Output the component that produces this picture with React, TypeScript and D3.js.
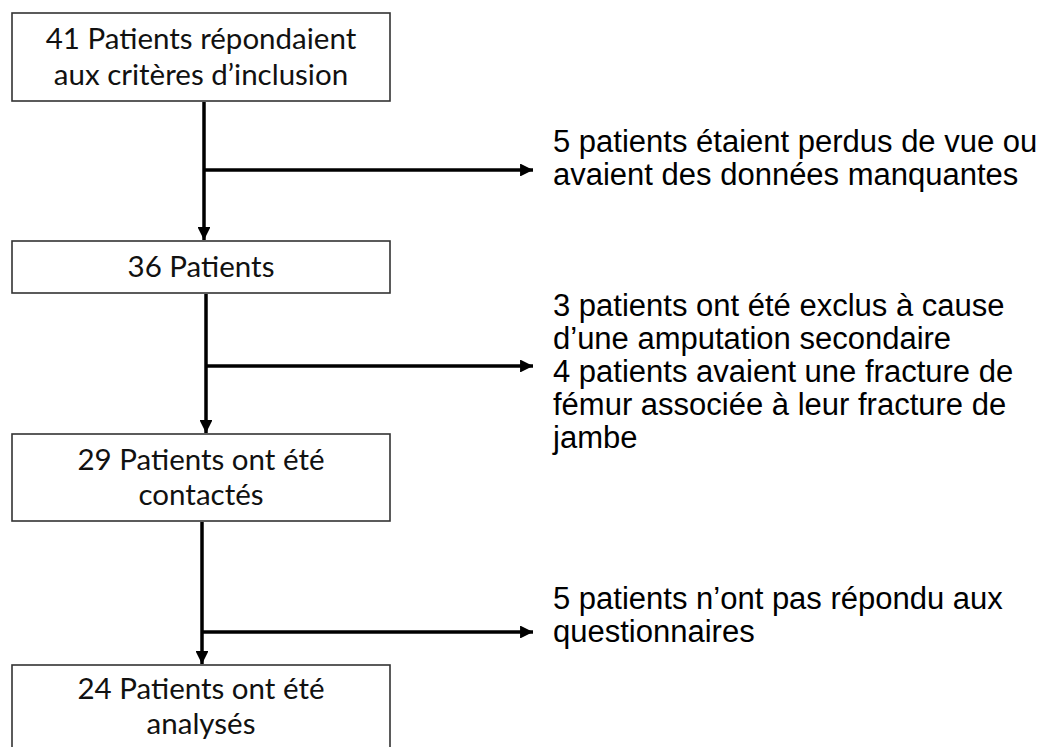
import { useRef, useEffect } from "react";
import * as d3 from "d3";

// stage counts and labels (flow diagram)
const stageCounts = [41, 36, 29, 24];
const stageLines = [
  ["41 Patients répondaient", "aux critères d’inclusion"],
  ["36 Patients"],
  ["29 Patients ont été", "contactés"],
  ["24 Patients ont été", "analysés"],
];
const excludedCounts = [5, 7, 5];
const excludedLines = [
  ["5 patients étaient perdus de vue ou", "avaient des données manquantes"],
  [
    "3 patients ont été exclus à cause",
    "d’une amputation secondaire",
    "4 patients avaient une fracture de",
    "fémur associée à leur fracture de",
    "jambe",
  ],
  ["5 patients n’ont pas répondu aux", "questionnaires"],
];

const W = 1041;
const H = 747;

// layout of the boxes (top, bottom) and connector geometry
const boxX0 = 12;
const boxX1 = 390;
const boxTops = [13, 241, 434, 665];
const boxBottoms = [101, 293, 521, 780];
const stemX = [204, 206, 202];
const branchY = [170, 366, 632];
const branchEnd = 533;
const noteX = 553;
const noteFirstBaseline = [152, 316, 609];

export default function App() {
  const svgRef = useRef<SVGSVGElement>(null);

  useEffect(() => {
    if (!svgRef.current) return;
    const svg = d3.select(svgRef.current);
    svg.selectAll("*").remove();

    const defs = svg.append("defs");
    defs
      .append("marker")
      .attr("id", "head")
      .attr("viewBox", "0 0 10 10")
      .attr("refX", 10)
      .attr("refY", 5)
      .attr("markerWidth", 3.7)
      .attr("markerHeight", 3.7)
      .attr("markerUnits", "strokeWidth")
      .attr("orient", "auto")
      .append("path")
      .attr("d", "M0,0 L10,5 L0,10 Z")
      .attr("fill", "#000");

    // boxes
    const boxes = svg
      .selectAll(".box")
      .data(stageCounts)
      .enter()
      .append("g")
      .attr("class", "box");

    boxes
      .append("rect")
      .attr("x", boxX0)
      .attr("y", (_, i) => boxTops[i])
      .attr("width", boxX1 - boxX0)
      .attr("height", (_, i) => boxBottoms[i] - boxTops[i])
      .attr("fill", "#fff")
      .attr("stroke", "#333")
      .attr("stroke-width", 1.6);

    const boxLineH = 35.5;
    boxes.each(function (_, i) {
      const lines = stageLines[i];
      const top = boxTops[i];
      const bottom = i === 3 ? 748 : boxBottoms[i]; // last box runs off the page
      const mid = (top + bottom) / 2;
      const first = mid - ((lines.length - 1) * boxLineH) / 2 + 10;
      d3.select(this)
        .selectAll("text")
        .data(lines)
        .enter()
        .append("text")
        .attr("x", (boxX0 + boxX1) / 2)
        .attr("y", (_, j) => first + j * boxLineH)
        .attr("text-anchor", "middle")
        .attr("font-family", "Lato, 'Open Sans', sans-serif")
        .attr("font-size", "29.5px")
        .attr("fill", "#111")
        .text((d) => d);
    });

    // connectors + exclusion notes
    const noteLineH = 33;
    excludedCounts.forEach((_, i) => {
      svg
        .append("line")
        .attr("x1", stemX[i])
        .attr("x2", stemX[i])
        .attr("y1", boxBottoms[i] + 1)
        .attr("y2", boxTops[i + 1] - 1)
        .attr("stroke", "#000")
        .attr("stroke-width", 3.5)
        .attr("marker-end", "url(#head)");

      svg
        .append("line")
        .attr("x1", stemX[i])
        .attr("x2", branchEnd)
        .attr("y1", branchY[i])
        .attr("y2", branchY[i])
        .attr("stroke", "#000")
        .attr("stroke-width", 3.5)
        .attr("marker-end", "url(#head)");

      svg
        .append("g")
        .selectAll("text")
        .data(excludedLines[i])
        .enter()
        .append("text")
        .attr("x", noteX)
        .attr("y", (_, j) => noteFirstBaseline[i] + j * noteLineH)
        .attr("font-family", "'Liberation Sans', Arial, sans-serif")
        .attr("font-size", "31px")
        .attr("fill", "#000")
        .text((d) => d);
    });
  }, []);

  return (
    <svg
      ref={svgRef}
      width={W}
      height={H}
      style={{ position: "fixed", left: 0, top: 0, background: "#fff" }}
      role="img"
      aria-label="Diagramme de flux des patients"
    />
  );
}
